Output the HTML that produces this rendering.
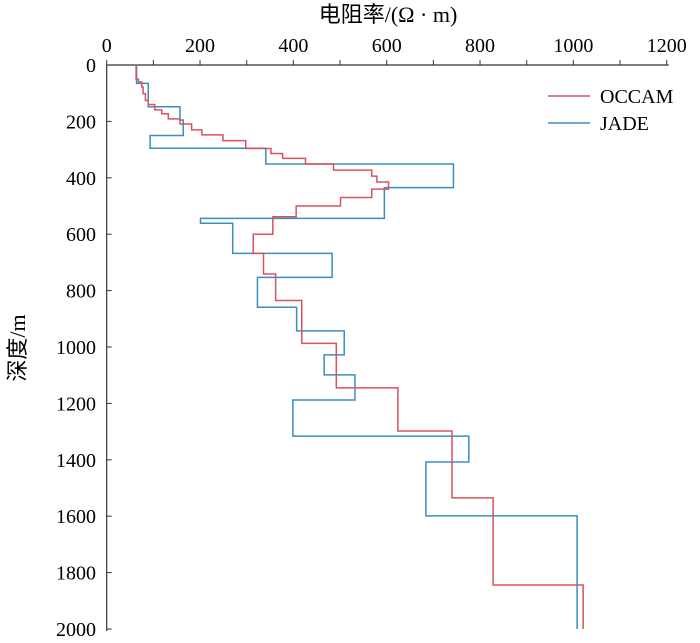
<!DOCTYPE html>
<html><head><meta charset="utf-8"><style>
html,body{margin:0;padding:0;background:#fff;}
svg{display:block;font-family:"Liberation Serif","Noto Serif CJK SC",serif;}
</style></head><body>
<svg id="chart" width="700" height="643" viewBox="0 0 700 643" xmlns="http://www.w3.org/2000/svg">
<g id="axes"></g>
<g id="series"></g>
<text x="388" y="22" font-size="22" text-anchor="middle" font-family="Liberation Serif, Noto Sans CJK SC, serif">电阻率/(Ω · m)</text>
<text transform="translate(25,348) rotate(-90)" font-size="22" text-anchor="middle" font-family="Liberation Serif, Noto Sans CJK SC, serif">深度/m</text>
<g>
<line x1="548" y1="96" x2="590" y2="96" stroke="#d9535e" stroke-width="1.5"/>
<text x="600" y="103" font-size="20">OCCAM</text>
<line x1="548" y1="123" x2="590" y2="123" stroke="#3a8fbf" stroke-width="1.5"/>
<text x="600" y="130" font-size="20">JADE</text>
</g>
</svg>
<script>
const xTicks=[0,200,400,600,800,1000,1200];
const yTicks=[0,200,400,600,800,1000,1200,1400,1600,1800,2000];
const occamRes=[63,68,75,78,83,89,103,118,132,157,182,204,249,298,352,377,426,486,568,579,604,568,501,406,356,314,336,362,418,492,624,740,828,1021];
const occamBottom=[50,60,78,102,126,140,159,173,191,209,230,248,268,296,314,331,351,373,394,415,440,470,500,538,600,668,741,835,987,1145,1298,1535,1844,2000];
const jadeRes=[64,89,157,164,93,341,743,595,201,270,483,323,407,509,466,532,399,776,684,1008];
const jadeBottom=[65,148,195,250,295,351,435,544,561,668,753,859,943,1028,1099,1188,1316,1408,1599,2000];

const x0=106.7,x1=666.7,y0=65,y1=629;
const sx=v=>x0+(v/1200)*(x1-x0);
const sy=d=>y0+(d/2000)*(y1-y0);
const NS="http://www.w3.org/2000/svg";
const ax=document.getElementById('axes');
function mk(tag,attrs,parent){const e=document.createElementNS(NS,tag);for(const k in attrs)e.setAttribute(k,attrs[k]);parent.appendChild(e);return e;}
let l=mk('line',{x1:x0,y1:y0,x2:x1+2,y2:y0,stroke:'#333','stroke-width':1.2},ax);


l=mk('line',{x1:x0,y1:y0,x2:x0,y2:y1+2,stroke:'#333','stroke-width':1.2},ax);


for(let v=0;v<=1200;v+=100){
  const t=mk('line',{x1:sx(v),y1:y0,x2:sx(v),y2:y0-5,stroke:'#333','stroke-width':1},ax);
  
  
}
xTicks.forEach(v=>{
  const t=mk('text',{x:sx(v),y:52,'font-size':20,'text-anchor':'middle'},ax);t.textContent=v;
  
  
});
yTicks.forEach(v=>{
  const m=mk('line',{x1:x0,y1:sy(v),x2:x0+5,y2:sy(v),stroke:'#333','stroke-width':1},ax);
  
  
  const t=mk('text',{x:96,y:sy(v)+7,'font-size':20,'text-anchor':'end'},ax);t.textContent=v;
  
  
});
function stepPath(res,bot){
  let d='M'+sx(res[0])+','+sy(0);let prev=0;
  for(let i=0;i<res.length;i++){
    if(i>0)d+=' L'+sx(res[i])+','+sy(prev);
    d+=' L'+sx(res[i])+','+sy(bot[i]);prev=bot[i];
  }
  return d;
}
const sg=document.getElementById('series');
let p=mk('path',{d:stepPath(jadeRes,jadeBottom),fill:'none',stroke:'#3a8fbf','stroke-width':1.5},sg);


p=mk('path',{d:stepPath(occamRes,occamBottom),fill:'none',stroke:'#d9535e','stroke-width':1.5},sg);


</script>
</body></html>
